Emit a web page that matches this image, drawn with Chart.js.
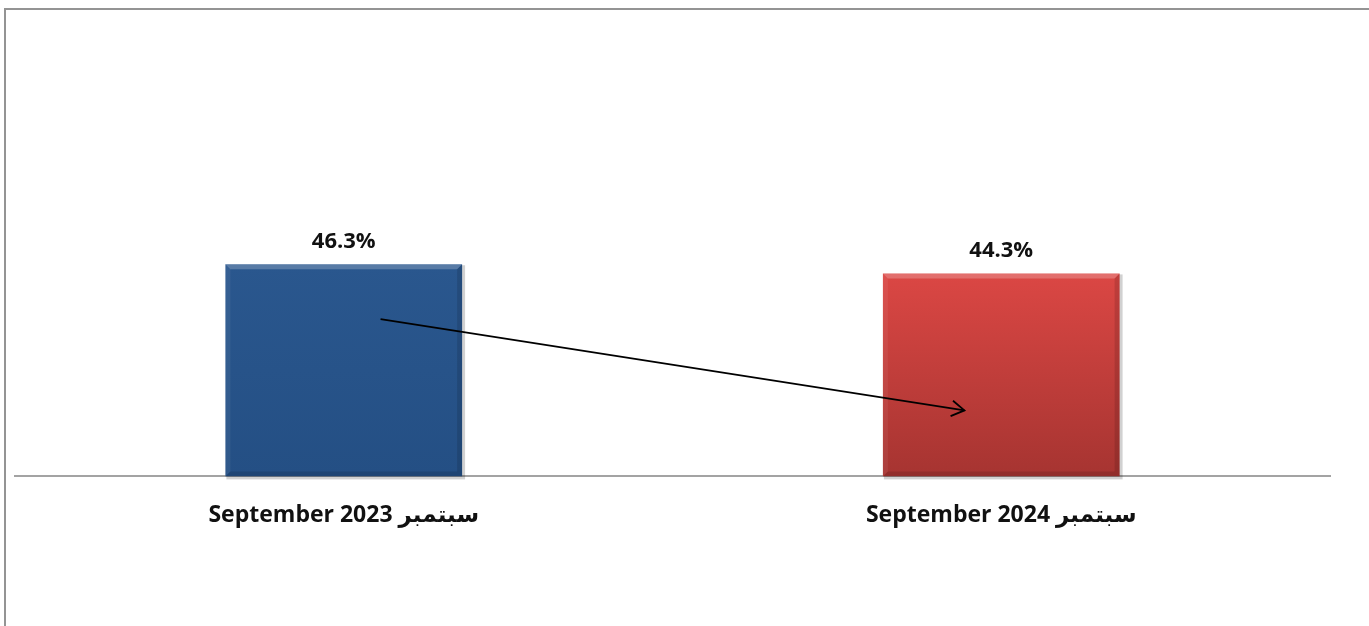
<!DOCTYPE html>
<html>
<head>
<meta charset="utf-8">
<script src="https://cdn.jsdelivr.net/npm/chart.js@4/dist/chart.umd.min.js"></script>
<style>
  html, body { margin: 0; padding: 0; background: #fff; overflow: hidden; }
  .wrap { position: relative; width: 1369px; height: 626px; }
  .frame { position: absolute; left: 4px; top: 8px; width: 1400px; height: 700px;
           border: 2px solid #949494; box-sizing: border-box; pointer-events: none; }
  canvas { position: absolute; left: 0; top: 0; }
</style>
</head>
<body>
<div class="wrap">
  <canvas id="chart" width="1369" height="626"></canvas>
  <div class="frame"></div>
</div>
<script>
/* ================= DATA ================= */
const categories = ["September 2023 سبتمبر", "September 2024 سبتمبر"];
const values = [46.3, 44.3];
const valueLabels = ["46.3%", "44.3%"];

// trend arrow: [category index, value] start -> end
const arrowFrom = [0.056, 34.3];
const arrowTo = [0.944, 14.4];

/* ================= STYLE ================= */
const barTop = ["#2a578e", "#db4744"];
const barBottom = ["#244f84", "#a63431"];
const labelFont = "bold 22px 'Open Sans', 'DejaVu Sans', sans-serif";

const makeFill = (ctx) => {
    const chart = ctx.chart;
    if (!chart.chartArea) return barTop[ctx.dataIndex];
    const yTop = chart.scales.y.getPixelForValue(values[ctx.dataIndex]);
    const yBot = chart.scales.y.getPixelForValue(0);
    const g = chart.ctx.createLinearGradient(0, yTop, 0, yBot);
    g.addColorStop(0, barTop[ctx.dataIndex]);
    g.addColorStop(1, barBottom[ctx.dataIndex]);
    return g;
};

/* ================= PLUGINS ================= */
const barExtras = {
    id: "barExtras",
    beforeDatasetsDraw(chart) {
        // soft shadow behind bars
        const ctx = chart.ctx;
        const meta = chart.getDatasetMeta(0);
        ctx.save();
        meta.data.forEach(bar => {
            const w = bar.width;
            ctx.fillStyle = "rgba(0,0,0,0.18)";
            ctx.fillRect(bar.x - w / 2 + 1, bar.y + 1, w + 2, bar.base - bar.y + 2);
        });
        ctx.restore();
    },
    afterDatasetsDraw(chart) {
        const ctx = chart.ctx;
        const meta = chart.getDatasetMeta(0);
        ctx.save();
        meta.data.forEach((bar, i) => {
            const l = bar.x - bar.width / 2;
            const r = bar.x + bar.width / 2;
            const t = bar.y;
            const b = bar.base;
            const bev = 5;
            // top bevel
            ctx.fillStyle = "rgba(255,255,255,0.22)";
            ctx.beginPath();
            ctx.moveTo(l, t); ctx.lineTo(r, t); ctx.lineTo(r - bev, t + bev); ctx.lineTo(l + bev, t + bev);
            ctx.closePath(); ctx.fill();
            // left bevel
            ctx.fillStyle = "rgba(255,255,255,0.06)";
            ctx.beginPath();
            ctx.moveTo(l, t); ctx.lineTo(l + bev, t + bev); ctx.lineTo(l + bev, b - bev); ctx.lineTo(l, b);
            ctx.closePath(); ctx.fill();
            // right + bottom bevel
            ctx.fillStyle = "rgba(0,0,0,0.12)";
            ctx.beginPath();
            ctx.moveTo(r, t); ctx.lineTo(r, b); ctx.lineTo(r - bev, b - bev); ctx.lineTo(r - bev, t + bev);
            ctx.closePath(); ctx.fill();
            ctx.beginPath();
            ctx.moveTo(l, b); ctx.lineTo(r, b); ctx.lineTo(r - bev, b - bev); ctx.lineTo(l + bev, b - bev);
            ctx.closePath(); ctx.fill();

            // value label
            ctx.fillStyle = "#111";
            ctx.font = labelFont;
            ctx.textAlign = "center";
            ctx.textBaseline = "middle";
            ctx.fillText(valueLabels[i], bar.x, t - 23);
        });

        // trend arrow
        const xs = chart.scales.x, ys = chart.scales.y;
        const x1 = xs.getPixelForValue(arrowFrom[0]), y1 = ys.getPixelForValue(arrowFrom[1]);
        const x2 = xs.getPixelForValue(arrowTo[0]), y2 = ys.getPixelForValue(arrowTo[1]);
        const ang = Math.atan2(y2 - y1, x2 - x1);
        ctx.strokeStyle = "#000";
        ctx.lineWidth = 1.8;
        ctx.beginPath();
        ctx.moveTo(x1, y1); ctx.lineTo(x2, y2);
        ctx.stroke();
        const h = 15, spread = 0.55;
        ctx.beginPath();
        ctx.moveTo(x2 - h * Math.cos(ang - spread), y2 - h * Math.sin(ang - spread));
        ctx.lineTo(x2, y2);
        ctx.lineTo(x2 - h * Math.cos(ang + spread), y2 - h * Math.sin(ang + spread));
        ctx.stroke();
        ctx.restore();
    }
};

/* ================= CHART ================= */
new Chart(document.getElementById("chart"), {
    type: "bar",
    data: {
        labels: categories,
        datasets: [{
            data: values,
            backgroundColor: makeFill,
            borderWidth: 0,
            barPercentage: 0.72,
            categoryPercentage: 0.5
        }]
    },
    options: {
        responsive: false,
        animation: false,
        layout: { padding: { left: 15, right: 39, top: 64, bottom: 72 } },
        plugins: { legend: { display: false }, tooltip: { enabled: false } },
        scales: {
            x: {
                grid: { display: false, drawTicks: false },
                border: { display: true, color: "#a3a3a3", width: 2 },
                ticks: {
                    color: "#111",
                    padding: 25,
                    maxRotation: 0,
                    font: { family: "'Open Sans', 'DejaVu Sans', sans-serif", size: 23, weight: "bold" }
                }
            },
            y: {
                display: false,
                min: 0,
                max: 90
            }
        }
    },
    plugins: [barExtras]
});
</script>
</body>
</html>
